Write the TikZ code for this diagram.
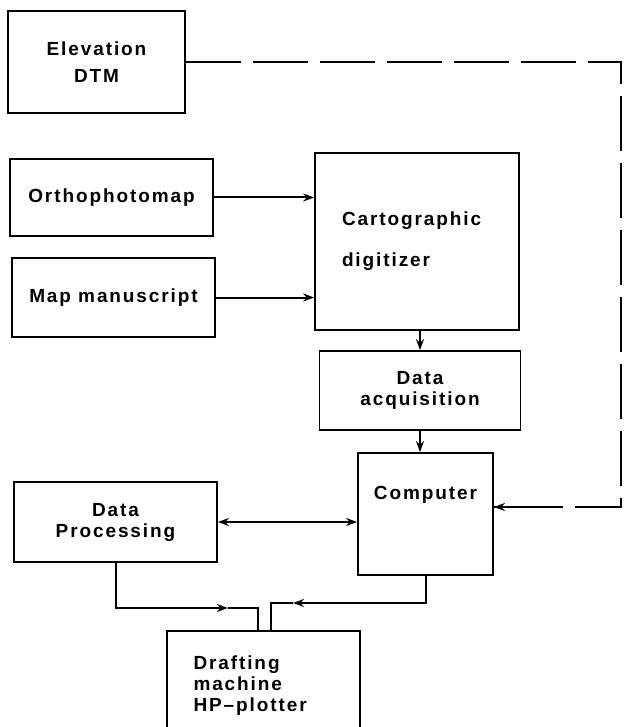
\documentclass[tikz,border=0pt]{standalone}
\usepackage{fontspec}
\setmainfont{Liberation Sans}[LetterSpace=10]
\usetikzlibrary{arrows.meta}
\tikzset{
  box/.style={draw, line width=1.8pt, inner sep=0pt, align=center,
              font=\fontsize{19}{21}\selectfont\bfseries},
  flow/.style={line width=2pt, ->},
  link/.style={line width=2pt},
  dashline/.style={line width=2pt, dash pattern=on 55pt off 12pt}
}
\begin{document}
\begin{tikzpicture}[x=1pt,y=-1pt, >={Stealth[length=11pt,width=8pt]}]
    \clip (0,0) rectangle (624,727);                                                   % page
    \fill[white] (0,0) rectangle (624,727);
    \node[box, minimum width=177, minimum height=102] (elev)  at (96.5,62)   {Elevation\\[6pt]DTM};
    \node[box, minimum width=203, minimum height=77]  (ortho) at (111.5,197.5) {Orthophotomap};
    \node[box, minimum width=203, minimum height=79]  (map)   at (113.5,297.5) {Map manuscript};
    \node[box, minimum width=204, minimum height=177, text width=150, align=left] (digit) at (417,241.5) {Cartographic\\[20pt]digitizer};
    \node[box, minimum width=201, minimum height=79]  (acq)   at (420,390.5) {Data\\acquisition};
    \node[box, minimum width=135, minimum height=122] (comp)  at (425.5,514)  {Computer\\[22pt]};
    \node[box, minimum width=203, minimum height=80]  (dp)    at (115.5,522)  {Data\\Processing};
    \node[box, minimum width=193, minimum height=110, text width=140, align=left] (draft) at (263.5,686) {Drafting\\machine\\HP--plotter};
    \coordinate (corner1) at (621,62);                                                 % dashed line, top right
    \coordinate (corner2) at (621,507);                                                % dashed line, bottom right
    \coordinate (midL) at (228,608);                                                   % left feed, arrow
    \coordinate (joinL) at (258,608);
    \coordinate (midR) at (293,603);                                                   % right feed, arrow
    \coordinate (joinR) at (271,603);
    \draw[dashline] (elev.east) -- (corner1) -- (corner2) -- ([yshift=7pt]comp.east);  % DTM link
    \draw[flow] ([yshift=7pt]comp.east) ++(60,0) -- ([yshift=7pt]comp.east);          % DTM arrow
    \draw[flow] (ortho.east) -- (ortho.east -| digit.west);                            % ortho in
    \draw[flow] (map.east) -- (map.east -| digit.west);                                % manuscript in
    \draw[flow] (digit.south -| acq.north) -- (acq.north);                             % to acquisition
    \draw[flow] (acq.south) -- (acq.south |- comp.north);                              % to computer
    \draw[flow, <->] (dp.east) -- (dp.east -| comp.west);                              % both ways
    \draw[flow] (dp.south) |- (midL);                                                  % processing out
    \draw[link] (midL) -- (joinL) -- (joinL |- draft.north);
    \draw[flow] (comp.south) |- (midR);                                                % computer out
    \draw[link] (midR) -- (joinR) -- (joinR |- draft.north);
\end{tikzpicture}
\end{document}
